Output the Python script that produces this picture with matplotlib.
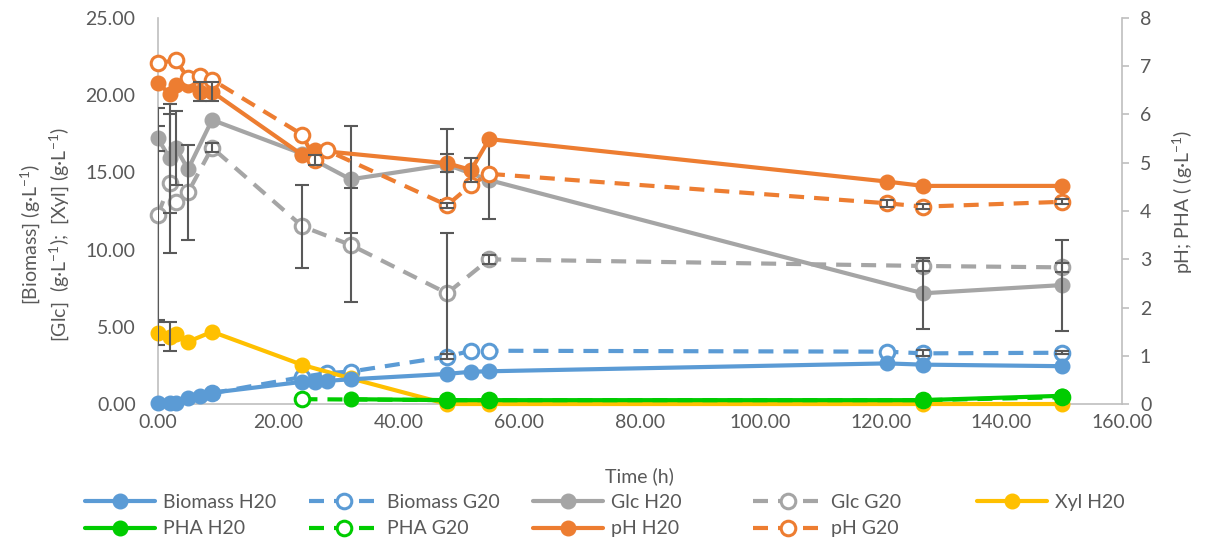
import numpy as np
import matplotlib
matplotlib.use("Agg")
import matplotlib.pyplot as plt

plt.rcParams['font.family'] = ['Lato', 'DejaVu Sans']
plt.rcParams['mathtext.default'] = 'regular'

# ---- data ----
t_bio_h = [0, 2, 3, 5, 7, 9, 24, 26, 28, 32, 48, 52, 55, 121, 127, 150]
bio_h = [0.05, 0.05, 0.08, 0.37, 0.52, 0.73, 1.44, 1.40, 1.50, 1.60, 1.95, 2.09, 2.12, 2.63, 2.55, 2.45]

t_bio_g = [9, 24, 28, 32, 48, 52, 55, 121, 127, 150]
bio_g = [0.70, 1.75, 2.00, 2.10, 3.07, 3.45, 3.45, 3.39, 3.28, 3.32]
bio_g_err = [0, 0, 0, 0, 0.15, 0, 0, 0, 0.2, 0.1]

t_glc = [0, 2, 3, 5, 9, 24, 32, 48, 55, 127, 150]
glc_h = [17.2, 15.9, 16.6, 15.2, 18.4, 16.2, 14.55, 15.5, 14.5, 7.17, 7.7]
glc_h_err = [0.8, 3.5, 2.4, 0, 0, 0, 3.45, 2.3, 2.5, 2.3, 2.95]
glc_g = [12.24, 14.3, 13.1, 13.7, 16.6, 11.5, 10.3, 7.17, 9.37, 8.94, 8.85]
glc_g_err = [6.9, 4.5, 0, 3.1, 0.3, 2.7, 3.7, 3.9, 0.3, 0.3, 0.3]

t_xyl = [0, 2, 3, 5, 9, 24, 32, 48, 55, 127, 150]
xyl_h = [4.62, 4.36, 4.53, 4.03, 4.68, 2.53, 1.66, 0.0, 0.0, 0.0, 0.0]
xyl_h_err = [0.8, 0.95, 0, 0, 0, 0, 0, 0, 0, 0, 0]

t_pha_h = [32, 48, 55, 127, 150]
pha_h = [0.10, 0.08, 0.08, 0.08, 0.17]
t_pha_g = [24, 48, 55, 127, 150]
pha_g = [0.10, 0.08, 0.08, 0.08, 0.14]

t_ph_h = [0, 2, 3, 5, 7, 9, 24, 26, 48, 52, 55, 121, 127, 150]
ph_h = [6.66, 6.42, 6.61, 6.61, 6.47, 6.47, 5.16, 5.26, 4.99, 4.85, 5.49, 4.61, 4.52, 4.52]
ph_h_err = [0, 0, 0, 0, 0.2, 0.2, 0, 0, 0.19, 0.25, 0, 0, 0, 0]

t_ph_g = [0, 3, 5, 7, 9, 24, 26, 28, 48, 52, 55, 121, 127, 150]
ph_g = [7.06, 7.13, 6.75, 6.79, 6.72, 5.58, 5.06, 5.26, 4.12, 4.54, 4.77, 4.16, 4.09, 4.19]
ph_g_err = [0, 0, 0, 0, 0, 0, 0.1, 0, 0.05, 0, 0, 0.07, 0.05, 0.05]

BLUE = '#5B9BD5'
GRAY = '#A5A5A5'
YELLOW = '#FFC000'
GREEN = '#00CC00'
ORANGE = '#ED7D31'
TXT = '#595959'
AXC = '#BFBFBF'

LW = 3.0
MS = 10.5
DASH = (3.6, 2.4)
FS = 14


def series(ax, t, y, color, filled, err=None, z=3):
    kw = dict(color=color, lw=LW, marker='o', ms=MS, solid_capstyle='round',
              dash_capstyle='butt', zorder=z, clip_on=False)
    if filled:
        kw.update(mfc=color, mec=color)
    else:
        kw.update(mfc='white', mec=color, mew=2.2, ls='--', dashes=DASH)
    line, = ax.plot(t, y, **kw)
    if err is not None:
        t = np.array(t); y = np.array(y); e = np.array(err)
        m = e > 0
        ax.errorbar(t[m], y[m], yerr=e[m], fmt='none', ecolor=TXT,
                    elinewidth=1.5, capsize=5, capthick=1.5, zorder=z + 0.5)
    return line


fig = plt.figure(figsize=(12.05, 5.45), dpi=100)
ax = fig.add_axes([0.131, 0.2587, 0.8, 0.7083])
ax2 = ax.twinx()

h_bio_h = series(ax, t_bio_h, bio_h, BLUE, True, z=3.2)
h_bio_g = series(ax, t_bio_g, bio_g, BLUE, False, bio_g_err, z=3.0)
h_glc_h = series(ax, t_glc, glc_h, GRAY, True, glc_h_err)
h_glc_g = series(ax, t_glc, glc_g, GRAY, False, glc_g_err)
h_xyl_h = series(ax, t_xyl, xyl_h, YELLOW, True, xyl_h_err)

h_pha_g = series(ax2, t_pha_g, pha_g, GREEN, False, z=2.8)
h_pha_h = series(ax2, t_pha_h, pha_h, GREEN, True, z=3.0)
h_ph_h = series(ax2, t_ph_h, ph_h, ORANGE, True, ph_h_err)
h_ph_g = series(ax2, t_ph_g, ph_g, ORANGE, False, ph_g_err)

ax.set_xlim(0, 160)
ax.set_ylim(0, 25)
ax2.set_ylim(0, 8)
ax.set_xticks(np.arange(0, 161, 20))
ax.set_yticks(np.arange(0, 26, 5))
ax2.set_yticks(np.arange(0, 9, 1))
ax.set_xticklabels(['%.2f' % v for v in np.arange(0, 161, 20)])
ax.set_yticklabels(['%.2f' % v for v in np.arange(0, 26, 5)])

for a in (ax, ax2):
    for s in a.spines.values():
        s.set_color(AXC)
        s.set_linewidth(1.2)
    a.spines['top'].set_visible(False)
    a.tick_params(labelsize=FS, labelcolor=TXT, colors=AXC)
ax.spines['right'].set_visible(False)
ax2.spines['left'].set_visible(False)
ax2.spines['bottom'].set_visible(False)
ax.tick_params(axis='y', length=0, pad=16, labelcolor=TXT)
ax.tick_params(axis='x', length=0, pad=7, labelcolor=TXT)
ax2.tick_params(axis='y', direction='out', length=5, width=1.2, pad=8, labelcolor=TXT)

ax.set_xlabel('Time (h)', fontsize=FS, color=TXT, labelpad=26)
fig.text(0.037, 0.57, '[Biomass] (g·L$^{-1}$)\n[Glc]  (g·L$^{-1}$);  [Xyl] (g·L$^{-1}$)',
         rotation=90, ha='center', va='center', fontsize=FS, color=TXT,
         multialignment='center', linespacing=1.3)
fig.text(0.982, 0.63, 'pH; PHA ( (g·L$^{-1}$)', rotation=90, ha='center',
         va='center', fontsize=FS, color=TXT)

# legend: 5 fixed-width columns, 2 rows
cols = [
    [(h_bio_h, 'Biomass H20'), (h_pha_h, 'PHA H20')],
    [(h_bio_g, 'Biomass G20'), (h_pha_g, 'PHA G20')],
    [(h_glc_h, 'Glc H20'), (h_ph_h, 'pH H20')],
    [(h_glc_g, 'Glc G20'), (h_ph_g, 'pH G20')],
    [(h_xyl_h, 'Xyl H20')],
]
col_x = [0.0705, 0.2564, 0.4423, 0.6249, 0.8108]
for x, entries in zip(col_x, cols):
    fig.legend([e[0] for e in entries], [e[1] for e in entries],
               loc='upper left', bbox_to_anchor=(x, 0.094),
               frameon=False, borderpad=0, borderaxespad=0,
               handlelength=3.6, handletextpad=0.4, labelspacing=0.5,
               fontsize=FS, labelcolor=TXT)

fig.savefig('out.png', dpi=100)
